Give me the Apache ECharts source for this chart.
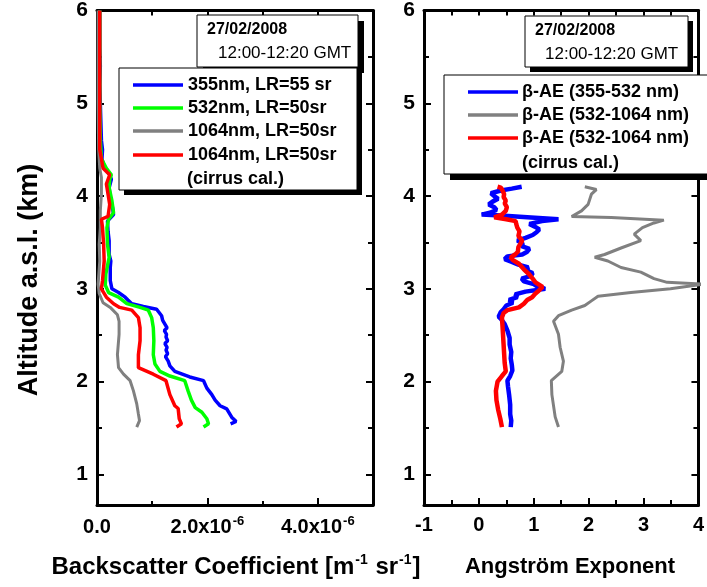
<!DOCTYPE html>
<html><head><meta charset="utf-8">
<script src="https://cdn.jsdelivr.net/npm/echarts@6/dist/echarts.min.js"></script>
<style>html,body{margin:0;padding:0;background:#fff}#c{width:707px;height:587px}</style>
</head><body><div id="c"></div>
<script>
// ---- Left panel: backscatter coefficient (units of 1e-6 m^-1 sr^-1) vs altitude (km)
const alt355 = [1.545,1.57,1.617,1.706,1.74,1.80,1.86,1.93,2.01,2.05,2.11,2.17,2.22,2.27,2.30,2.34,2.37,2.41,2.44,2.48,2.51,2.55,2.58,2.62,2.66,2.71,2.78,2.81,2.84,2.88,2.91,2.96,3.00,3.09,3.23,3.30,3.37,3.45,3.52,3.62,3.73,3.80,3.88,3.98,4.09,4.18,4.23,4.30,4.40,4.50,4.60,4.80,5.00,5.20,5.40,5.60,5.80,6.00];
const bsc355 = [2.42,2.52,2.44,2.35,2.23,2.14,2.08,1.99,1.93,1.68,1.41,1.32,1.29,1.24,1.28,1.25,1.27,1.23,1.28,1.25,1.26,1.22,1.27,1.23,1.19,1.17,1.08,0.84,0.63,0.56,0.51,0.39,0.27,0.24,0.24,0.25,0.22,0.22,0.22,0.20,0.19,0.30,0.28,0.24,0.22,0.26,0.23,0.14,0.09,0.10,0.08,0.07,0.06,0.05,0.06,0.05,0.05,0.05];

const alt532 = [1.51,1.545,1.60,1.67,1.72,1.80,1.90,2.01,2.06,2.11,2.19,2.29,2.44,2.58,2.69,2.77,2.80,2.84,2.91,2.96,3.04,3.16,3.34,3.48,3.66,3.75,3.82,3.95,4.09,4.18,4.23,4.30,4.40,4.60,5.00,5.50,6.00];
const bsc532 = [1.93,2.02,1.99,1.90,1.78,1.71,1.65,1.59,1.32,1.14,1.05,1.02,1.03,1.02,0.99,0.93,0.78,0.54,0.39,0.21,0.15,0.16,0.22,0.19,0.18,0.21,0.30,0.27,0.22,0.23,0.26,0.17,0.08,0.06,0.05,0.05,0.05];

const alt1064 = [1.51,1.58,1.65,1.76,1.90,2.01,2.08,2.15,2.29,2.51,2.65,2.72,2.80,2.85,2.95,3.05,3.30,3.48,3.66,3.84,4.02,4.20,4.30,4.50,5.00,5.50,6.00];
const bsc1064 = [0.72,0.77,0.75,0.72,0.66,0.60,0.48,0.39,0.37,0.40,0.40,0.37,0.24,0.11,0.04,0.02,0.05,0.04,0.06,0.06,0.08,0.08,0.05,0.03,0.02,0.02,0.02];

const alt1064c = [1.51,1.545,1.60,1.71,1.74,1.86,2.01,2.08,2.15,2.29,2.44,2.58,2.69,2.77,2.80,2.84,2.91,3.00,3.09,3.30,3.48,3.66,3.75,3.78,3.91,4.02,4.13,4.23,4.30,4.50,5.00,5.50,6.00];
const bsc1064c = [1.44,1.53,1.49,1.47,1.41,1.32,1.25,1.02,0.75,0.75,0.78,0.78,0.75,0.63,0.41,0.30,0.17,0.08,0.10,0.13,0.12,0.10,0.08,0.20,0.23,0.20,0.17,0.23,0.11,0.05,0.05,0.05,0.05];

// ---- Right panel: Angstrom exponent vs altitude (km)
const altAE355 = [1.51,1.58,1.65,1.75,1.86,1.95,2.01,2.06,2.12,2.18,2.25,2.32,2.40,2.47,2.55,2.62,2.67,2.70,2.72,2.75,2.78,2.82,2.85,2.88,2.91,2.94,2.97,3.00,3.02,3.05,3.08,3.11,3.14,3.17,3.20,3.23,3.26,3.29,3.32,3.35,3.37,3.40,3.43,3.46,3.49,3.52,3.55,3.58,3.61,3.64,3.67,3.70,3.73,3.75,3.77,3.79,3.80,3.82,3.85,3.88,3.91,3.94,3.97,4.00,4.03,4.06,4.08,4.10];
const ae355 = [0.58,0.59,0.57,0.57,0.55,0.53,0.52,0.57,0.61,0.60,0.58,0.59,0.56,0.56,0.52,0.47,0.41,0.36,0.33,0.40,0.45,0.50,0.62,0.55,0.70,0.66,0.85,1.21,1.08,1.00,0.82,0.78,0.95,0.98,0.86,0.90,0.72,0.60,0.47,0.52,0.79,0.88,0.92,0.78,0.80,0.70,0.85,0.98,1.05,1.10,1.02,0.92,1.15,1.45,0.95,0.40,0.05,0.20,0.32,0.28,0.18,0.25,0.35,0.28,0.22,0.40,0.60,0.78];

const altAE1064 = [1.51,1.62,1.86,2.01,2.11,2.22,2.37,2.51,2.65,2.71,2.77,2.82,2.87,2.92,2.96,3.00,3.05,3.07,3.11,3.18,3.23,3.30,3.34,3.37,3.44,3.52,3.59,3.66,3.71,3.74,3.77,3.78,3.84,3.91,4.02,4.07,4.10];
const ae1064 = [1.45,1.39,1.33,1.32,1.51,1.54,1.48,1.45,1.36,1.45,1.69,1.93,2.05,2.17,2.77,3.49,4.10,3.43,3.19,2.95,2.59,2.35,2.11,2.29,2.59,2.95,2.83,2.98,3.19,3.37,2.41,1.69,1.87,1.99,2.05,2.14,1.93];

const altAE1064c = [1.51,1.60,1.70,1.80,1.90,2.00,2.06,2.11,2.20,2.30,2.40,2.50,2.60,2.69,2.74,2.77,2.80,2.84,2.88,2.91,2.95,2.98,3.02,3.04,3.07,3.11,3.16,3.21,3.27,3.31,3.34,3.37,3.40,3.45,3.52,3.57,3.62,3.66,3.70,3.73,3.75,3.77,3.80,3.84,3.88,3.92,3.95,3.99,4.02,4.06,4.09,4.10];
const ae1064c = [0.42,0.39,0.35,0.32,0.31,0.34,0.42,0.49,0.47,0.46,0.45,0.44,0.43,0.42,0.45,0.52,0.73,0.82,0.88,0.97,1.03,1.09,1.16,1.18,1.03,0.98,0.91,0.82,0.73,0.62,0.58,0.66,0.71,0.72,0.79,0.72,0.74,0.70,0.68,0.67,0.50,0.28,0.42,0.49,0.51,0.47,0.49,0.45,0.46,0.43,0.40,0.34];

const legendLeft = ['355nm, LR=55 sr','532nm, LR=50sr','1064nm, LR=50sr','1064nm, LR=50sr'];
const legendRight = ['\u03b2-AE (355-532 nm)','\u03b2-AE (532-1064 nm)','\u03b2-AE (532-1064 nm)'];
const cirrusNote = '(cirrus cal.)';
const dateText = '27/02/2008';
const timeText = '12:00-12:20 GMT';
const yTicksMin = 0.67, yTicksMax = 6;

function pairs(xs, ys){ return ys.map((y,i)=>[xs[i], y]); }

const FF = 'Liberation Sans, Arial, sans-serif';
const BLUE='#0000ff', GREEN='#00ff00', GRAY='#808080', RED='#ff0000';

const chart = echarts.init(document.getElementById('c'), null, {renderer:'canvas'});

const lineAx = {show:true, onZero:false, lineStyle:{color:'#000', width:3}};
const noLabel = {show:false};
function yAx(grid, pos, labels){
  return {type:'value', gridIndex:grid, position:pos, min:yTicksMin, max:yTicksMax, splitNumber:5,
    axisLine:lineAx, splitLine:{show:false},
    axisTick:{show:true, inside:true, length:7, lineStyle:{width:2,color:'#000'}},
    minorTick:{show:true, splitNumber:2, length:5, lineStyle:{width:2,color:'#000'}},
    axisLabel: labels ? {show:true, showMinLabel:false, fontSize:21, fontWeight:'bold', color:'#000', fontFamily:FF, margin:9} : noLabel};
}

const option = {
  animation:false,
  backgroundColor:'#fff',
  grid:[{left:97, top:10, width:276, height:495},{left:424, top:10, width:277, height:495}],
  xAxis:[
    {type:'value', gridIndex:0, position:'bottom', min:0, max:5, interval:2, axisLine:lineAx, splitLine:{show:false},
     axisTick:{show:true, inside:true, length:7, lineStyle:{width:2,color:'#000'}},
     axisLabel:{show:true, margin:10, color:'#000', fontFamily:FF, fontWeight:'bold', fontSize:20,
       formatter:function(v){ if (Math.abs(v%2)>1e-9) return ''; if (v===0) return '{a|0.0}'; return '{a|'+v.toFixed(1)+'x10}{s|-6}'; },
       rich:{a:{fontSize:20, fontWeight:'bold', fontFamily:FF, color:'#000', lineHeight:24},
             s:{fontSize:13, fontWeight:'bold', fontFamily:FF, color:'#000', verticalAlign:'top', lineHeight:24, padding:[0,0,10,1]}}}},
    {type:'value', gridIndex:0, position:'bottom', min:0, max:5, interval:1, axisLine:{show:false}, splitLine:{show:false},
     axisTick:{show:true, inside:true, length:4, lineStyle:{width:2,color:'#000'}}, axisLabel:noLabel},
    {type:'value', gridIndex:0, position:'top', min:0, max:5, interval:1, axisLine:lineAx, splitLine:{show:false},
     axisTick:{show:true, inside:true, length:5, lineStyle:{width:2,color:'#000'}}, axisLabel:noLabel},
    {type:'value', gridIndex:1, position:'bottom', min:-1, max:4, interval:1, axisLine:lineAx, splitLine:{show:false},
     axisTick:{show:true, inside:true, length:7, lineStyle:{width:2,color:'#000'}},
     minorTick:{show:true, splitNumber:2, length:5, lineStyle:{width:2,color:'#000'}},
     axisLabel:{show:true, margin:10, color:'#000', fontFamily:FF, fontWeight:'bold', fontSize:20}},
    {type:'value', gridIndex:1, position:'top', min:-1, max:4, interval:0.5, axisLine:lineAx, splitLine:{show:false},
     axisTick:{show:true, inside:true, length:5, lineStyle:{width:2,color:'#000'}}, axisLabel:noLabel}
  ],
  yAxis:[ yAx(0,'left',true), yAx(0,'right',false), yAx(1,'left',true), yAx(1,'right',false) ],
  series:[
    {type:'line', name:legendLeft[0], xAxisIndex:0, yAxisIndex:0, data:pairs(bsc355, alt355), showSymbol:false, lineStyle:{color:BLUE, width:3.5}, itemStyle:{color:BLUE}},
    {type:'line', name:legendLeft[1], xAxisIndex:0, yAxisIndex:0, data:pairs(bsc532, alt532), showSymbol:false, lineStyle:{color:GREEN, width:3.5}, itemStyle:{color:GREEN}},
    {type:'line', name:legendLeft[2], xAxisIndex:0, yAxisIndex:0, data:pairs(bsc1064, alt1064), showSymbol:false, lineStyle:{color:GRAY, width:3}, itemStyle:{color:GRAY}},
    {type:'line', name:legendLeft[3], xAxisIndex:0, yAxisIndex:0, data:pairs(bsc1064c, alt1064c), showSymbol:false, lineStyle:{color:RED, width:3.5}, itemStyle:{color:RED}},
    {type:'line', name:legendRight[0], xAxisIndex:3, yAxisIndex:2, data:pairs(ae355, altAE355), showSymbol:false, lineStyle:{color:BLUE, width:4.5}, itemStyle:{color:BLUE}},
    {type:'line', name:legendRight[1], xAxisIndex:3, yAxisIndex:2, data:pairs(ae1064, altAE1064), showSymbol:false, lineStyle:{color:GRAY, width:3}, itemStyle:{color:GRAY}},
    {type:'line', name:legendRight[2]+' cirrus', xAxisIndex:3, yAxisIndex:2, data:pairs(ae1064c, altAE1064c), showSymbol:false, lineStyle:{color:RED, width:4.5}, itemStyle:{color:RED}}
  ],
  graphic:[]
};

const G = option.graphic;
function box(x,y,w,h,off){
  G.push({type:'rect', z:100, shape:{x:x+off,y:y+off,width:w,height:h}, style:{fill:'#000'}});
  G.push({type:'rect', z:101, shape:{x:x,y:y,width:w,height:h}, style:{fill:'#fff', stroke:'#000', lineWidth:1}});
}
function txt(x,y,t,size,weight,align,extra){
  G.push(Object.assign({type:'text', z:110, x:x, y:y, style:{text:t, fill:'#000', font:weight+' '+size+'px '+FF, textAlign:align||'left', textVerticalAlign:'middle'}}, extra||{}));
}
function seg(x1,x2,y,color){
  G.push({type:'line', z:110, shape:{x1:x1,y1:y,x2:x2,y2:y}, style:{stroke:color, lineWidth:3.5}});
}
// left date box
box(197,15,161,52,6);
txt(207,30,dateText,16,'bold');
txt(218,53,timeText,17,'normal');
// left legend
box(119,68,238,122,5);
const lc=[BLUE,GREEN,GRAY,RED], ly=[85,108,131,155];
for(let i=0;i<4;i++){ seg(133,183,ly[i],lc[i]); txt(188,ly[i],legendLeft[i],18,'bold'); }
txt(187,179,cirrusNote,18,'bold');
// right date box
box(525,16,163,51,5);
txt(535,31,dateText,16,'bold');
txt(545,54,timeText,17,'normal');
// right legend
box(444,75,280,99,6);
const rc=[BLUE,GRAY,RED], ry=[92,115,138];
for(let i=0;i<3;i++){ seg(468,518,ry[i],rc[i]); txt(522,ry[i],legendRight[i],18,'bold'); }
txt(522,163,cirrusNote,18,'bold');
// axis titles
G.push({type:'text', z:110, x:236, y:567, style:{text:'{a|Backscatter Coefficient [m}{s|-1}{a| sr}{s|-1}{a|]}', textAlign:'center', textVerticalAlign:'middle',
  rich:{a:{fontSize:24, fontWeight:'bold', fontFamily:FF, fill:'#000', lineHeight:28}, s:{fontSize:14, fontWeight:'bold', fontFamily:FF, fill:'#000', verticalAlign:'top', lineHeight:28, padding:[0,1,10,1]}}}});
txt(570,567,'Angstr\u00f6m Exponent',22,'bold','center');
G.push({type:'text', z:110, x:30, y:280, rotation:Math.PI/2, style:{text:'Altitude a.s.l. (km)', fill:'#000', font:'bold 27px '+FF, textAlign:'center', textVerticalAlign:'middle'}});

chart.setOption(option);
</script></body></html>
